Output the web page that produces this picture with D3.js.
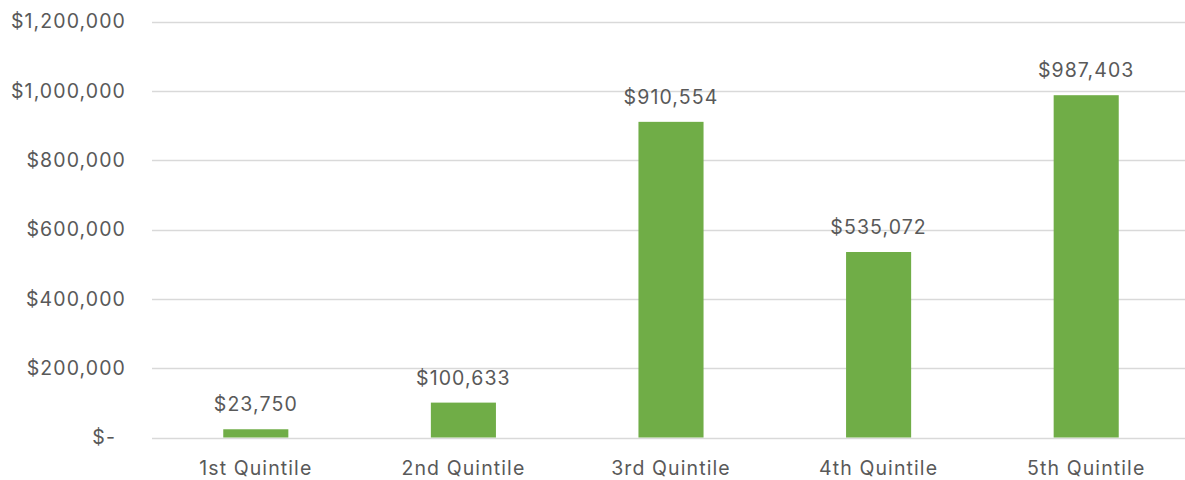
<!DOCTYPE html>
<html>
<head>
<meta charset="utf-8">
<script src="https://cdn.jsdelivr.net/npm/d3@7"></script>
<style>
    body { margin: 0; background: #fff; }
    text { font-family: Inter, "Open Sans", Arial, sans-serif; fill: #595959; letter-spacing: 1.1px; }
</style>
</head>
<body>
<svg id="chart-container" width="1185" height="480"></svg>
<script>
// values
var categories = ["1st Quintile", "2nd Quintile", "3rd Quintile", "4th Quintile", "5th Quintile"];
var values = [23750, 100633, 910554, 535072, 987403];
var yTicks = [0, 200000, 400000, 600000, 800000, 1000000, 1200000];

var width = 1185, height = 480;
var margin = { top: 21.5, right: -5, bottom: 42.5, left: 152 };

var svg = d3.select("#chart-container");

var x = d3.scaleBand()
    .domain(categories)
    .range([margin.left, width - margin.right])
    .padding(0);

var y = d3.scaleLinear()
    .domain([0, 1200000])
    .range([height - margin.bottom, margin.top]);

var money = d3.format(",");
function fmt(v) {
    return v === 0 ? "$-" : "$" + money(v);
}

// gridlines
svg.append("g")
    .selectAll("line")
    .data(yTicks)
    .enter()
    .append("line")
    .attr("x1", margin.left)
    .attr("x2", width - margin.right)
    .attr("y1", d => Math.round(y(d)) + 0.5)
    .attr("y2", d => Math.round(y(d)) + 0.5)
    .style("stroke", "#d9d9d9")
    .style("stroke-width", 1.3);

// y axis labels
svg.append("g")
    .selectAll("text")
    .data(yTicks)
    .enter()
    .append("text")
    .attr("x", d => d === 0 ? 116 : 126)
    .attr("y", d => y(d))
    .attr("dy", "0.35em")
    .attr("text-anchor", "end")
    .attr("font-size", 19.5)
    .text(fmt);

// bars (gap width ~219%)
var barW = x.bandwidth() / 3.19;
svg.append("g")
    .selectAll("rect")
    .data(values)
    .enter()
    .append("rect")
    .attr("x", (d, i) => x(categories[i]) + (x.bandwidth() - barW) / 2)
    .attr("y", d => y(d))
    .attr("width", barW)
    .attr("height", d => y(0) - y(d))
    .style("fill", "#70ad47");

// data labels
svg.append("g")
    .selectAll("text")
    .data(values)
    .enter()
    .append("text")
    .attr("x", (d, i) => x(categories[i]) + x.bandwidth() / 2)
    .attr("y", d => y(d) - 18)
    .attr("text-anchor", "middle")
    .attr("font-size", 19.5)
    .text(fmt);

// category labels
svg.append("g")
    .selectAll("text")
    .data(categories)
    .enter()
    .append("text")
    .attr("x", d => x(d) + x.bandwidth() / 2)
    .attr("y", height - 5)
    .attr("text-anchor", "middle")
    .attr("font-size", 19.5)
    .text(d => d);
</script>
</body>
</html>
